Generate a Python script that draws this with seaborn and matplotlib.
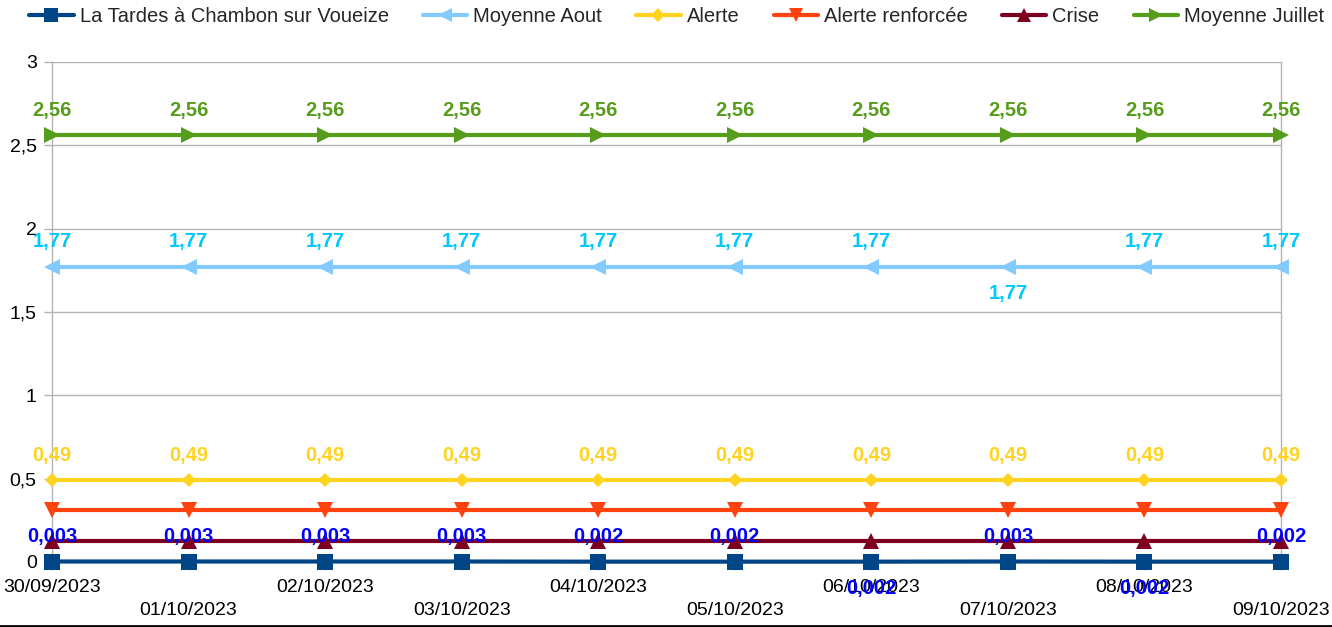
import matplotlib
matplotlib.use("Agg")
import matplotlib.pyplot as plt
import seaborn as sns
import pandas as pd
import numpy as np
from matplotlib.ticker import FuncFormatter, MultipleLocator

dates = ["30/09/2023", "01/10/2023", "02/10/2023", "03/10/2023", "04/10/2023",
         "05/10/2023", "06/10/2023", "07/10/2023", "08/10/2023", "09/10/2023"]
tardes = [0.003, 0.003, 0.003, 0.003, 0.002, 0.002, 0.002, 0.003, 0.002, 0.002]
moy_aout = [1.77] * 10
alerte = [0.49] * 10
alerte_renf = [0.31] * 10
crise = [0.125] * 10
moy_juillet = [2.56] * 10

series_names = ["La Tardes à Chambon sur Voueize", "Moyenne Aout", "Alerte",
                "Alerte renforcée", "Crise", "Moyenne Juillet"]
series_vals = [tardes, moy_aout, alerte, alerte_renf, crise, moy_juillet]
colors = ["#004586", "#83caff", "#ffd320", "#ff420e", "#7e0021", "#579d1c"]
markers = ["s", "<", "D", "v", "^", ">"]
msizes = [11, 11, 7.5, 11, 11, 11]
label_colors = ["#0000ff", "#00c8ff", "#ffd320", None, None, "#579d1c"]

rows = []
for name, vals in zip(series_names, series_vals):
    for i, v in enumerate(vals):
        rows.append({"serie": name, "idx": i, "val": v})
df = pd.DataFrame(rows)

sns.set_theme(style="white")
plt.rcParams['font.family'] = ['Liberation Sans', 'DejaVu Sans']

fig = plt.figure(figsize=(13.32, 6.27), dpi=100)
ax = fig.add_axes([52 / 1332, 1 - 562 / 627, (1281 - 52) / 1332, 500 / 627])

for name, col, mk, ms in zip(series_names, colors, markers, msizes):
    sub = df[df["serie"] == name]
    sns.lineplot(data=sub, x="idx", y="val", ax=ax, color=col, marker=mk,
                 markersize=ms, markeredgewidth=0, linewidth=3, label=name,
                 legend=False, zorder=3, clip_on=False)

# data labels
below = {1: [7], 0: [6, 8]}
for s, (vals, lc) in enumerate(zip(series_vals, label_colors)):
    if lc is None:
        continue
    for i, v in enumerate(vals):
        txt = f"{v:g}".replace(".", ",")
        off = -19 if i in below.get(s, []) else 18
        ax.annotate(txt, (i, v), xytext=(0, off), textcoords="offset points",
                    ha="center", va="center", fontsize=14.5, fontweight="bold",
                    color=lc, zorder=5, annotation_clip=False)

ax.set_xlim(0, 9)
ax.set_ylim(0, 3)
ax.yaxis.set_major_locator(MultipleLocator(0.5))
ax.yaxis.set_major_formatter(FuncFormatter(lambda v, p: f"{v:g}".replace(".", ",")))
ax.set_xticks(range(len(dates)))
ax.set_xticklabels([d if i % 2 == 0 else "\n" + d for i, d in enumerate(dates)],
                   linespacing=1.5)
ax.grid(axis="y", color="#b3b3b3", linewidth=1)
ax.grid(axis="x", visible=False)
for sp in ["left", "right"]:
    ax.spines[sp].set_visible(True)
    ax.spines[sp].set_color("#b3b3b3")
    ax.spines[sp].set_linewidth(1)
for sp in ["top", "bottom"]:
    ax.spines[sp].set_visible(False)
ax.tick_params(axis="both", which="both", length=6, color="#b3b3b3", width=1,
               labelsize=14, labelcolor="black", direction="out", left=True, bottom=True)
ax.tick_params(axis="x", pad=6)
ax.tick_params(axis="y", pad=5)
ax.set_xlabel("")
ax.set_ylabel("")

handles = [plt.Line2D([], [], color=c, marker=m, markersize=ms * 0.9, markeredgewidth=0, linewidth=3)
           for c, m, ms in zip(colors, markers, msizes)]
fig.legend(handles, series_names, loc="upper center", bbox_to_anchor=(0.508, 1.018), ncol=6,
           frameon=False, fontsize=14.5, handlelength=2.2, handletextpad=0.3, columnspacing=1.7)

fig.add_artist(plt.Line2D([0, 1], [1 / 627, 1 / 627], color="black", linewidth=2,
                          transform=fig.transFigure))

fig.savefig("out.png", dpi=100)
